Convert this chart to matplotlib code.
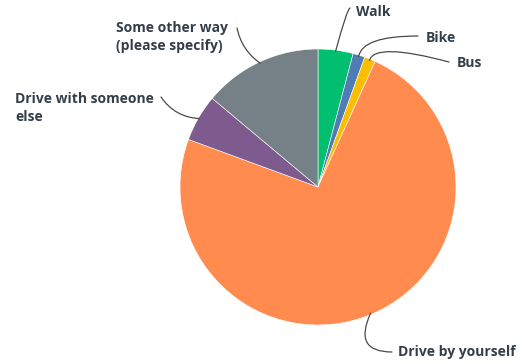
import numpy as np
import matplotlib
matplotlib.use("Agg")
import matplotlib.pyplot as plt

# survey answers, clockwise from 12 o'clock
labels = ["Walk", "Bike", "Bus", "Drive by yourself",
          "Drive with someone\nelse", "Some other way\n(please specify)"]
shares = [4.1, 1.4, 1.3, 73.8, 5.5, 13.9]
colors = ["#00bf6f", "#507cb6", "#f9be00", "#ff8b4f", "#7d5b8f", "#768087"]

W, H = 522, 364
fig = plt.figure(figsize=(W / 100, H / 100), dpi=100)

# pie centre at (318, 187) px, radius 138 px
cx, cy, r = 318, 187, 138
ax = fig.add_axes([(cx - r) / W, (H - cy - r) / H, 2 * r / W, 2 * r / H])
wedges, _ = ax.pie(shares, colors=colors, startangle=90, counterclock=False,
                   radius=1.0, wedgeprops=dict(edgecolor="white", linewidth=0.4))
ax.set_xlim(-1, 1)
ax.set_ylim(-1, 1)
ax.set_aspect("equal")
ax.axis("off")

# label placement in pixels: (text x, text y, line end x, line end y, connector)
place = [
    (356, 12, 350, 8, "angle3,angleA=20,angleB=75"),
    (426, 38, 418, 36, "angle3,angleA=0,angleB=80"),
    (457, 63, 449, 62, "angle3,angleA=-15,angleB=75"),
    (398, 352, 392, 352, "angle3,angleA=0,angleB=65"),
    (15, 108, 161, 97, "arc3,rad=0.25"),
    (116, 37, 237, 28, "arc3,rad=0.2"),
]

def px(x, y):
    return x / W, 1 - y / H

for w, lab, (tx, ty, lx, ly, conn) in zip(wedges, labels, place):
    mid = np.deg2rad((w.theta1 + w.theta2) / 2)
    xy = (0.99 * np.cos(mid), 0.99 * np.sin(mid))
    ax.annotate("", xy=xy, xycoords="data", xytext=px(lx, ly),
                textcoords="figure fraction",
                arrowprops=dict(arrowstyle="-", color="#4a4a4a", lw=0.9,
                                shrinkA=0, shrinkB=0, connectionstyle=conn))
    fig.text(*px(tx, ty), lab, ha="left", va="center", fontsize=10,
             fontweight="bold", family=["Open Sans", "DejaVu Sans"],
             color="#333e48", linespacing=1.45)

fig.savefig("out.png", dpi=100)
